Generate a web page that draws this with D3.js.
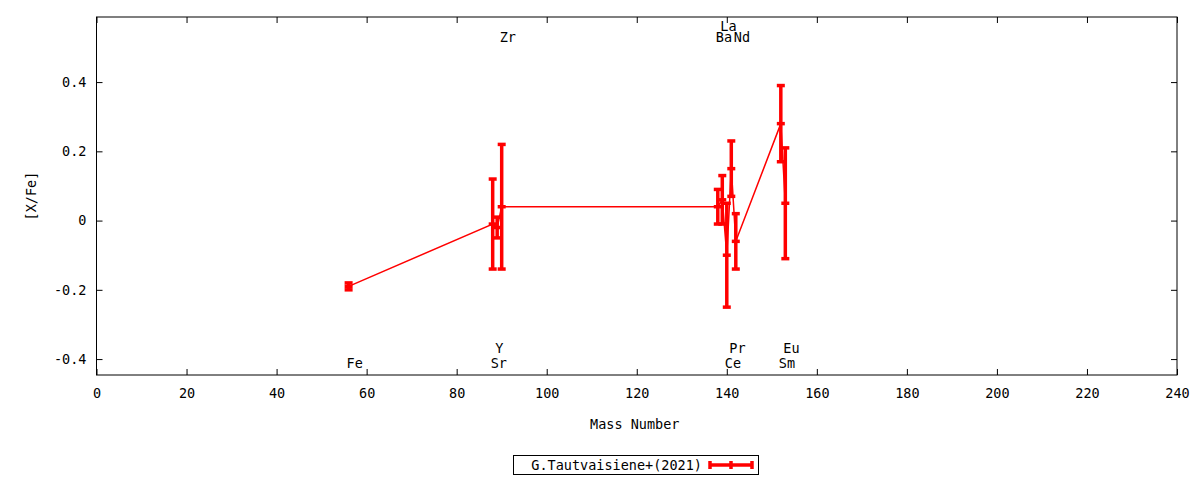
<!DOCTYPE html>
<html>
<head>
<meta charset="utf-8">
<script src="https://cdn.jsdelivr.net/npm/d3@7"></script>
<style>
  body { margin: 0; background: #fff; }
  text { font-family: "DejaVu Sans Mono", monospace; font-size: 13.5px; fill: #000; }
</style>
</head>
<body>
<div class="chart"></div>
<script>
// element abundances vs mass number
var elements = ["Fe", "Sr", "Y", "Zr", "Ba", "La", "Ce", "Pr", "Nd", "Sm", "Eu"]
var massNumbers = [56, 88, 89, 90, 138, 139, 140, 141, 142, 152, 153]
var xFe = [-0.19, -0.01, -0.02, 0.04, 0.04, 0.06, -0.10, 0.15, -0.06, 0.28, 0.05]
var xFeErr = [0.01, 0.13, 0.03, 0.18, 0.05, 0.07, 0.15, 0.08, 0.08, 0.11, 0.16]
var xTicks = [0, 20, 40, 60, 80, 100, 120, 140, 160, 180, 200, 220, 240]
var yTicks = [-0.4, -0.2, 0, 0.2, 0.4]
var seriesName = "G.Tautvaisiene+(2021)"

var width = 1200,
  height = 480,
  plotL = 96.5, plotR = 1177, plotT = 17, plotB = 375

var svg = d3.select(".chart").append("svg")
  .attr("width", width)
  .attr("height", height)

var x = d3.scaleLinear().domain([0, 240]).range([plotL, plotR])
var y = d3.scaleLinear().domain([-0.446, 0.588]).range([plotB, plotT])

var fmt = function(d) { return d === 0 ? "0" : d.toFixed(1) }

// axes with inward ticks, mirrored on top/right
svg.append("g").attr("transform", `translate(${plotL},0)`)
  .call(d3.axisLeft(y).tickValues(yTicks).tickSize(-6).tickPadding(10).tickFormat(fmt))
svg.append("g").attr("transform", `translate(${plotR},0)`)
  .call(d3.axisRight(y).tickValues(yTicks).tickSize(-6).tickFormat(""))
svg.append("g").attr("transform", `translate(0,${plotB})`)
  .call(d3.axisBottom(x).tickValues(xTicks).tickSize(-6).tickPadding(13))
svg.append("g").attr("transform", `translate(0,${plotT})`)
  .call(d3.axisTop(x).tickValues(xTicks).tickSize(-6).tickFormat(""))
svg.selectAll(".domain").remove()
svg.selectAll(".tick line").attr("stroke", "#000")
svg.selectAll(".tick text").style("font-family", "DejaVu Sans Mono").style("font-size", "13.5px")

svg.append("rect")
  .attr("x", plotL).attr("y", plotT)
  .attr("width", plotR - plotL).attr("height", plotB - plotT)
  .attr("fill", "none").attr("stroke", "#000")

// axis titles
svg.append("text")
  .attr("x", (plotL + plotR) / 2 - 2).attr("y", 429)
  .attr("text-anchor", "middle")
  .text("Mass Number")
svg.append("text")
  .attr("transform", `translate(36,${(plotT + plotB) / 2}) rotate(-90)`)
  .attr("text-anchor", "middle")
  .text("[X/Fe]")

// element labels: which edge (1 = bottom) and which row each one sits in
var labelSlot = {
  Fe: [1, 0], Sr: [1, 0], Y: [1, 1], Zr: [0, 0], Ba: [0, 0], La: [0, 1],
  Ce: [1, 0], Pr: [1, 1], Nd: [0, 0], Sm: [1, 0], Eu: [1, 1]
}
function labelY(name) {
  var s = labelSlot[name]
  if (s[0] === 1) return plotB - 7 - s[1] * 15
  return plotT + 25 - s[1] * 11
}
svg.append("g").selectAll("text")
  .data(elements)
  .enter().append("text")
  .attr("x", function(d, i) { return x(massNumbers[i]) - 2 })
  .attr("y", labelY)
  .text(function(d) { return d })

var points = elements.map(function(d, i) {
  return { name: d, m: massNumbers[i], v: xFe[i], e: xFeErr[i] }
})

var red = "#ff0000"
var plot = svg.append("g")

plot.append("path")
  .datum(points)
  .attr("fill", "none")
  .attr("stroke", red)
  .attr("stroke-width", 1.5)
  .attr("d", d3.line().x(function(d) { return x(d.m) }).y(function(d) { return y(d.v) }))

var cap = 4
var bars = plot.selectAll(".bar")
  .data(points)
  .enter().append("g").attr("class", "bar")
  .attr("stroke", red)
  .attr("stroke-width", 3.5)

bars.append("line")
  .attr("x1", function(d) { return x(d.m) }).attr("x2", function(d) { return x(d.m) })
  .attr("y1", function(d) { return y(d.v - d.e) }).attr("y2", function(d) { return y(d.v + d.e) })
bars.append("line")
  .attr("x1", function(d) { return x(d.m) - cap }).attr("x2", function(d) { return x(d.m) + cap })
  .attr("y1", function(d) { return y(d.v + d.e) }).attr("y2", function(d) { return y(d.v + d.e) })
bars.append("line")
  .attr("x1", function(d) { return x(d.m) - cap }).attr("x2", function(d) { return x(d.m) + cap })
  .attr("y1", function(d) { return y(d.v - d.e) }).attr("y2", function(d) { return y(d.v - d.e) })
bars.append("line")
  .attr("x1", function(d) { return x(d.m) - cap }).attr("x2", function(d) { return x(d.m) + cap })
  .attr("y1", function(d) { return y(d.v) }).attr("y2", function(d) { return y(d.v) })

// legend
var legend = svg.append("g")
legend.append("rect")
  .attr("x", 513.5).attr("y", 455.5).attr("width", 245).attr("height", 19)
  .attr("fill", "#fff").attr("stroke", "#000")
legend.append("text")
  .attr("x", 702).attr("y", 469.5)
  .attr("text-anchor", "end")
  .text(seriesName)
var lg = legend.append("g").attr("stroke", red).attr("stroke-width", 3.5)
lg.append("line").attr("x1", 710).attr("x2", 752).attr("y1", 465).attr("y2", 465)
;[710, 731, 752].forEach(function(px) {
  lg.append("line").attr("x1", px).attr("x2", px).attr("y1", 461).attr("y2", 469)
})
</script>
</body>
</html>
